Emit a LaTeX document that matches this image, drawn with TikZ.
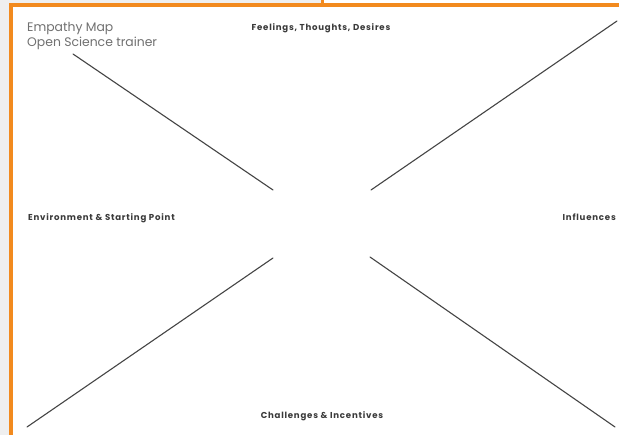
\documentclass[tikz,border=0pt]{standalone}
\usepackage{fontspec}
\setmainfont{Poppins}
\begin{document}
\begin{tikzpicture}[x=1pt,y=-1pt,
  frame/.style={draw=none,fill=orangeframe},
  divider/.style={draw=linegray,line width=1.1pt,line cap=round},
  heading/.style={font=\fontsize{8.6}{10}\selectfont\bfseries\addfontfeature{LetterSpace=9},text=headgray,inner sep=0pt,anchor=base},
  title/.style={font=\fontsize{12.4}{15}\selectfont,text=titlegray,inner sep=0pt,anchor=base west}]
  \definecolor{orangeframe}{HTML}{F28A1E}
  \definecolor{paneled}{HTML}{EFEFEF}
  \definecolor{linegray}{HTML}{454545}
  \definecolor{headgray}{HTML}{3A3A3A}
  \definecolor{titlegray}{HTML}{707070}
  % canvas and surrounding panel
  \useasboundingbox (0,0) rectangle (619,435);
  \fill[white] (0,0) rectangle (619,435);
  \fill[paneled] (0,0) rectangle (9,435);
  \fill[paneled] (0,0) rectangle (321,3.5);
  % orange frame edges
  \fill[orangeframe] (8.5,3.2) rectangle (619,7);
  \fill[orangeframe] (8.5,3.2) rectangle (12.5,435);
  \fill[orangeframe] (320.5,0) rectangle (323.5,4);
  % endpoints of the four dividers
  \coordinate (tlo) at (73,54);
  \coordinate (tli) at (273,190);
  \coordinate (tro) at (617,21);
  \coordinate (tri) at (371,190);
  \coordinate (bli) at (273,258);
  \coordinate (blo) at (27,427);
  \coordinate (bri) at (370,257);
  \coordinate (bro) at (615,427);
  \draw[divider] (tlo) -- (tli);
  \draw[divider] (tro) -- (tri);
  \draw[divider] (bli) -- (blo);
  \draw[divider] (bri) -- (bro);
  % titles and quadrant headings
  \node[title] (name) at (27,32) {Empathy Map};
  \node[title] (role) at (27,47) {Open Science trainer};
  \node[heading] (feel) at (321,30.5) {Feelings, Thoughts, Desires};
  \node[heading,anchor=base west] (env) at (28,220.5) {Environment \& Starting Point};
  \node[heading,anchor=base east] (infl) at (616,220.5) {Influences};
  \node[heading] (chal) at (322,418.5) {Challenges \& Incentives};
\end{tikzpicture}
\end{document}
